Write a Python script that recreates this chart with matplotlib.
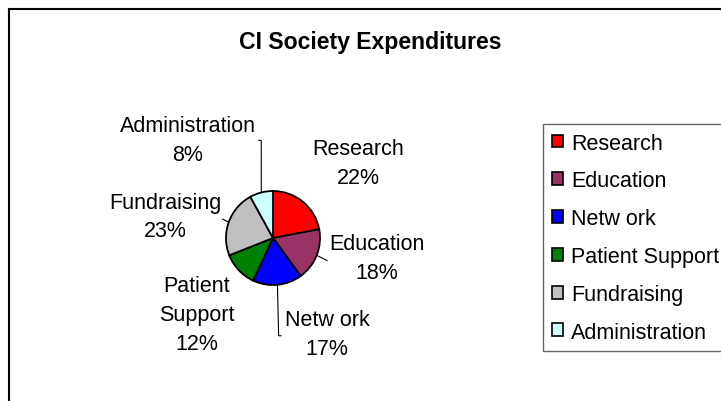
import numpy as np
import matplotlib.pyplot as plt
from matplotlib.patches import Patch
from matplotlib.lines import Line2D

plt.rcParams['font.family'] = ['Liberation Sans', 'DejaVu Sans']

# data
categories = ['Research', 'Education', 'Netw ork', 'Patient Support', 'Fundraising', 'Administration']
pie_names = ['Research', 'Education', 'Netw ork', 'Patient\nSupport', 'Fundraising', 'Administration']
shares = [22, 18, 17, 12, 23, 8]
colors = ['#FF0000', '#993366', '#0000FF', '#008000', '#C0C0C0', '#CCFFFF']

# layout (pixels of a 721x402 canvas, pie radius units for labels)
W, H = 721, 402
cx, cy, R = 273, 239, 47
label_pos = [(1.81, 1.60), (2.21, -0.43), (1.15, -2.04), (-1.62, -1.63), (-2.30, 0.46), (-1.81, 2.08)]
# leader line end points (None = no leader)
leaders = [None,
           [(1.15, -0.48)],
           [(0.12, -2.08), (0.17, -2.08)],
           None,
           [(-1.07, 0.40)],
           [(-0.25, 2.07), (-0.30, 2.08)]]

fig = plt.figure(figsize=(W / 100, H / 100), dpi=100)
ax = fig.add_axes([0, 0, 1, 1])
wedges, _ = ax.pie(shares, colors=colors, startangle=90, counterclock=False,
                   wedgeprops=dict(edgecolor='black', linewidth=1.3))
ax.set_xlim(-cx / R, (W - cx) / R)
ax.set_ylim(-(H - cy) / R, cy / R)
ax.axis('off')

for i, w in enumerate(wedges):
    x, y = label_pos[i]
    ax.text(x, y, f'{pie_names[i]}\n{shares[i]}%', ha='center', va='center',
            fontsize=15.5, linespacing=1.48)
    if leaders[i]:
        mid = np.deg2rad((w.theta1 + w.theta2) / 2)
        pts = [(np.cos(mid), np.sin(mid))] + leaders[i]
        xs, ys = zip(*pts)
        ax.plot(xs, ys, color='black', lw=0.8)

# title
fig.text(370 / W, 1 - 48.5 / H, 'CI Society Expenditures', ha='center', va='baseline',
         fontsize=16.6, fontweight='bold')

# outer chart border (runs off right and bottom)
fig.add_artist(Line2D([9 / W, 9 / W], [0, 1 - 10 / H], color='black', lw=1.5))
fig.add_artist(Line2D([9 / W, 1], [1 - 10 / H, 1 - 10 / H], color='black', lw=1.5))

handles = [Patch(facecolor=c, edgecolor='black', linewidth=1.2) for c in colors]
leg = fig.legend(handles, categories, loc='upper left', bbox_to_anchor=(543 / W, 1 - 125 / H),
                 fontsize=15.5, frameon=True, fancybox=False, borderaxespad=0,
                 handlelength=0.55, handleheight=0.55, handletextpad=0.35,
                 labelspacing=0.78, borderpad=0.4)
leg.get_frame().set_edgecolor('#404040')
leg.get_frame().set_linewidth(1.0)

fig.savefig('out.png', dpi=100)
